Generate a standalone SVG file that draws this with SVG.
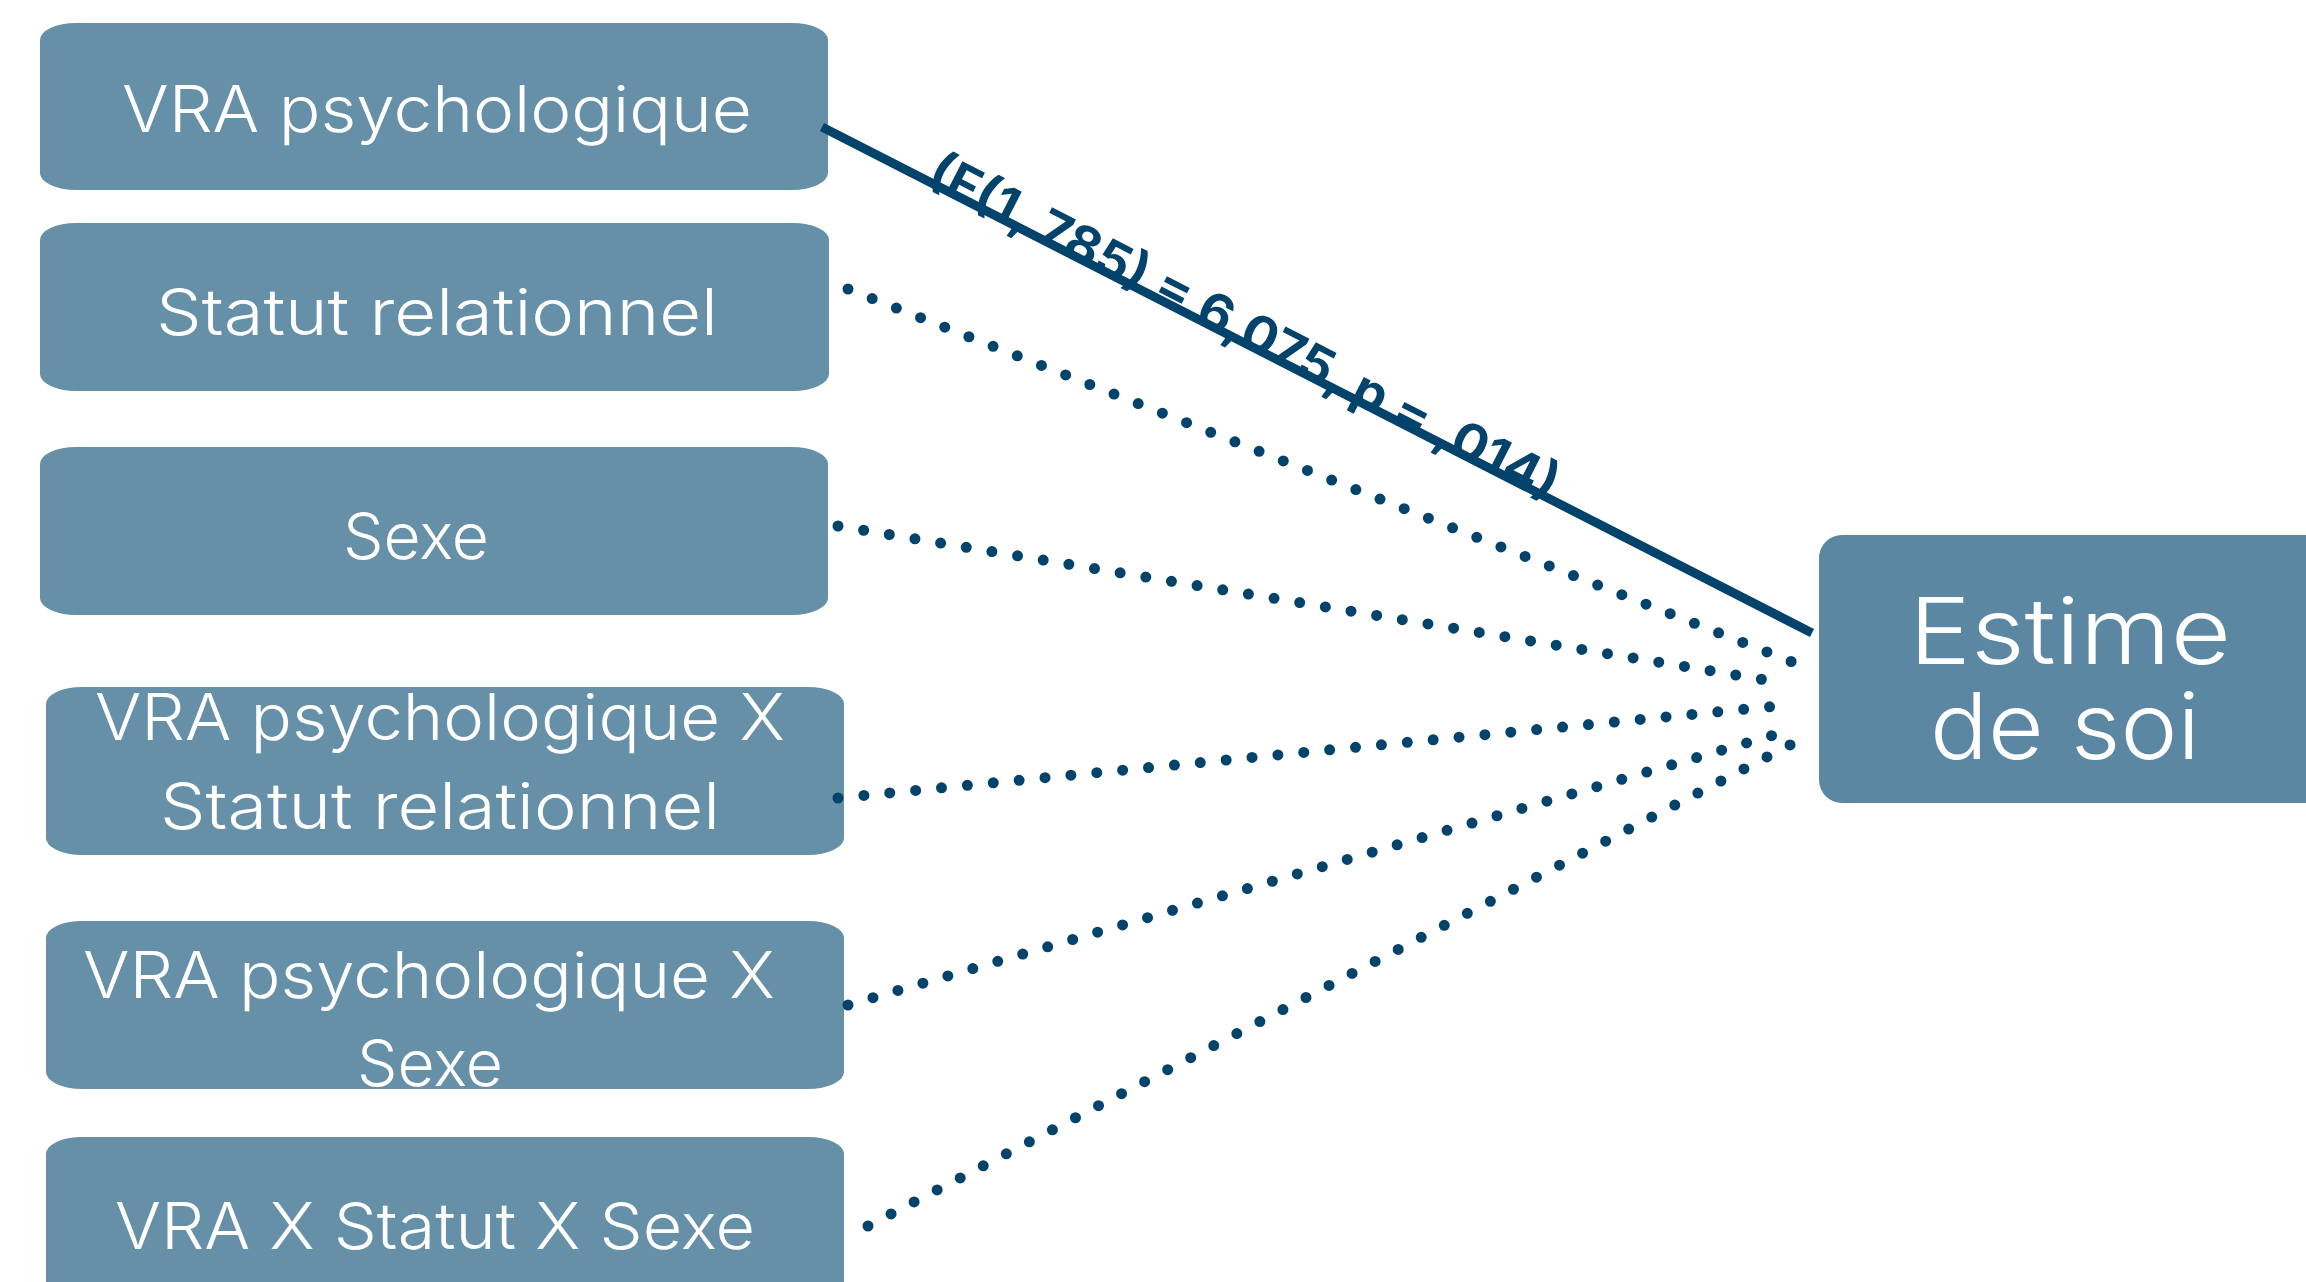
<svg xmlns="http://www.w3.org/2000/svg" width="2306" height="1282" viewBox="0 0 2306 1282">
  <style>
    .box { fill: #668fa8; }
    .target { fill: #5b87a2; }
    .lbl { fill: #ffffff; font-family: Inter, "Liberation Sans", sans-serif; font-weight: 300; font-size: 64px; }
    .big { font-size: 92px; }
    .dots { fill: none; stroke: #02436c; stroke-width: 11; stroke-linecap: round; stroke-dasharray: 0 26; }
    .solid { fill: none; stroke: #02436c; stroke-width: 9; }
    .stat { fill: #02436c; font-family: Inter, "Liberation Sans", sans-serif; font-weight: 700; font-size: 50px; }
  </style>
  <rect width="2306" height="1282" fill="#ffffff"/>

  <!-- predictor nodes -->
  <g id="vra">
    <rect class="box" x="40" y="23" width="788" height="167" rx="36" ry="17"/>
    <text class="lbl" x="122" y="132" textLength="630" lengthAdjust="spacingAndGlyphs">VRA psychologique</text>
  </g>
  <g id="statut">
    <rect class="box" x="40" y="223" width="789" height="168" rx="36" ry="17"/>
    <text class="lbl" x="156" y="335" textLength="562" lengthAdjust="spacingAndGlyphs">Statut relationnel</text>
  </g>
  <g id="sexe">
    <rect class="box" x="40" y="447" width="788" height="168" rx="36" ry="17"/>
    <text class="lbl" x="343" y="559" textLength="146" lengthAdjust="spacingAndGlyphs">Sexe</text>
  </g>
  <g id="vra-statut">
    <rect class="box" x="46" y="687" width="798" height="168" rx="36" ry="17"/>
    <text class="lbl" x="95" y="740" textLength="690" lengthAdjust="spacingAndGlyphs">VRA psychologique X</text>
    <text class="lbl" x="160" y="829" textLength="560" lengthAdjust="spacingAndGlyphs">Statut relationnel</text>
  </g>
  <g id="vra-sexe">
    <rect class="box" x="46" y="921" width="798" height="168" rx="36" ry="17"/>
    <text class="lbl" x="83" y="998" textLength="692" lengthAdjust="spacingAndGlyphs">VRA psychologique X</text>
    <text class="lbl" x="357" y="1086" textLength="146" lengthAdjust="spacingAndGlyphs">Sexe</text>
  </g>
  <g id="vra-statut-sexe">
    <rect class="box" x="46" y="1137" width="798" height="200" rx="36" ry="17"/>
    <text class="lbl" x="115" y="1249" textLength="640" lengthAdjust="spacingAndGlyphs">VRA X Statut X Sexe</text>
  </g>

  <!-- outcome node -->
  <g id="estime">
    <rect class="target" x="1819" y="535" width="520" height="268" rx="23" ry="23"/>
    <text class="lbl big" x="1909" y="664" textLength="322" lengthAdjust="spacingAndGlyphs">Estime</text>
    <text class="lbl big" x="1930" y="759" textLength="270" lengthAdjust="spacingAndGlyphs">de soi</text>
  </g>

  <!-- paths to the outcome -->
  <g id="connectors">
    <line class="solid" x1="822" y1="127" x2="1812" y2="633"/>
    <text class="stat" transform="translate(925,183) rotate(27.1)" textLength="700" lengthAdjust="spacingAndGlyphs">(F(1, 785) = 6,075, p = ,014)</text>
    <line class="dots" x1="848" y1="289" x2="1800" y2="665"/>
    <line class="dots" x1="838" y1="526" x2="1784" y2="683"/>
    <line class="dots" x1="838" y1="798" x2="1788" y2="705"/>
    <line class="dots" x1="848" y1="1005" x2="1791" y2="730"/>
    <line class="dots" x1="868" y1="1226" x2="1811" y2="734"/>
  </g>
</svg>
